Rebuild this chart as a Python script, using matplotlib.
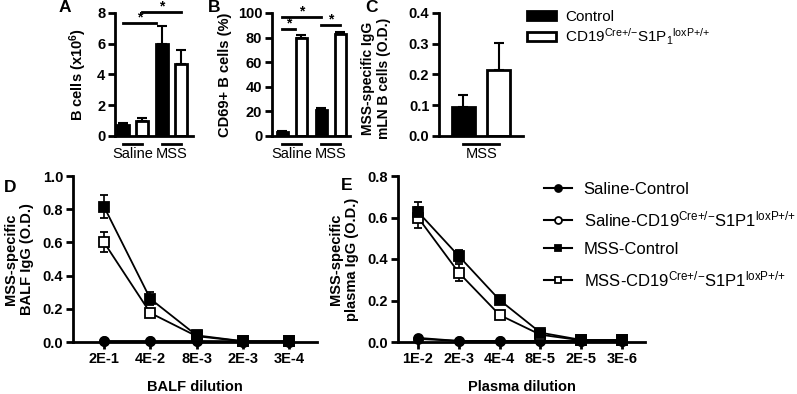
import matplotlib
matplotlib.use("Agg")
import matplotlib.pyplot as plt
import numpy as np
from matplotlib.patches import Patch
from matplotlib.lines import Line2D

plt.rcParams['font.family'] = ['Liberation Sans', 'DejaVu Sans']
plt.rcParams['mathtext.fontset'] = 'custom'
plt.rcParams['mathtext.rm'] = 'Liberation Sans'
plt.rcParams['mathtext.bf'] = 'Liberation Sans:bold'
plt.rcParams['mathtext.it'] = 'Liberation Sans:italic'

# ---------------- data ----------------
groups = ["Saline", "MSS"]
bar_labels = ["Control",
              r"CD19$^{\mathregular{Cre{+}/{-}}}$S1P$_{\mathregular{1}}$$^{\mathregular{loxP{+}/{+}}}$"]

a_ctrl = [0.7, 6.0]
a_ctrl_err = [0.15, 1.15]
a_ko = [1.0, 4.7]
a_ko_err = [0.15, 0.9]

b_ctrl = [3.5, 21.5]
b_ctrl_err = [0.6, 1.2]
b_ko = [80.0, 83.0]
b_ko_err = [2.0, 1.5]

c_groups = ["MSS"]
c_ctrl = [0.093]
c_ctrl_err = [0.04]
c_ko = [0.215]
c_ko_err = [0.087]

d_dil = ["2E-1", "4E-2", "8E-3", "2E-3", "3E-4"]
d_sal_ctrl = [0.005, 0.005, 0.005, 0.003, 0.003]
d_sal_ko = [0.005, 0.005, 0.005, 0.003, 0.003]
d_mss_ctrl = [0.815, 0.26, 0.04, 0.005, 0.005]
d_mss_ctrl_err = [0.07, 0.04, 0.008, 0.003, 0.003]
d_mss_ko = [0.60, 0.175, 0.035, 0.004, 0.004]
d_mss_ko_err = [0.06, 0.02, 0.006, 0.003, 0.003]

e_dil = ["1E-2", "2E-3", "4E-4", "8E-5", "2E-5", "3E-6"]
e_sal_ctrl = [0.02, 0.005, 0.005, 0.005, 0.005, 0.005]
e_sal_ko = [0.015, 0.005, 0.005, 0.005, 0.005, 0.005]
e_mss_ctrl = [0.627, 0.414, 0.202, 0.045, 0.01, 0.01]
e_mss_ctrl_err = [0.048, 0.03, 0.01, 0.01, 0.004, 0.004]
e_mss_ko = [0.60, 0.334, 0.13, 0.035, 0.008, 0.008]
e_mss_ko_err = [0.05, 0.04, 0.01, 0.01, 0.004, 0.004]

line_labels = ["Saline-Control",
               r"Saline-CD19$^{\mathregular{Cre{+}/{-}}}$S1P1$^{\mathregular{loxP{+}/{+}}}$",
               "MSS-Control",
               r"MSS-CD19$^{\mathregular{Cre{+}/{-}}}$S1P1$^{\mathregular{loxP{+}/{+}}}$"]

# ---------------- figure ----------------
W, H = 797, 394
fig = plt.figure(figsize=(W / 100, H / 100), dpi=100)


def axes_px(l, t, r, b):
    return fig.add_axes([l / W, 1 - b / H, (r - l) / W, (b - t) / H])


LW = 2.0


def style(ax):
    for s in ["top", "right"]:
        ax.spines[s].set_visible(False)
    for s in ["left", "bottom"]:
        ax.spines[s].set_linewidth(LW)
    ax.tick_params(width=LW, length=5, labelsize=10.5, pad=2)
    for lbl in ax.get_yticklabels() + ax.get_xticklabels():
        lbl.set_fontweight('bold')


def bar_panel(ax, ctrl, ctrl_err, ko, ko_err, names, width):
    n = len(ctrl)
    pos_c = []
    pos_k = []
    for i in range(n):
        base = i * 2.05
        pos_c.append(base)
        pos_k.append(base + 1)
    ax.bar(pos_c, ctrl, width=width, color='black', edgecolor='black', linewidth=LW, zorder=2)
    ax.bar(pos_k, ko, width=width, color='white', edgecolor='black', linewidth=LW, zorder=2)
    ax.errorbar(pos_c, ctrl, yerr=[np.zeros(n), ctrl_err], fmt='none', ecolor='black',
                elinewidth=1.5, capsize=3.5, capthick=1.5, zorder=1)
    ax.errorbar(pos_k, ko, yerr=[np.zeros(n), ko_err], fmt='none', ecolor='black',
                elinewidth=1.5, capsize=3.5, capthick=1.5, zorder=1)
    ax.set_xticks([])
    for i in range(n):
        ax.plot([pos_c[i], pos_k[i]], [-0.065, -0.065], color='black', lw=LW,
                transform=ax.get_xaxis_transform(), clip_on=False)
        ax.text((pos_c[i] + pos_k[i]) / 2, -0.15, names[i], ha='center', va='center',
                fontsize=10.5, transform=ax.get_xaxis_transform())
    return pos_c, pos_k


def sig(ax, x0, x1, y, star_x=None):
    ax.plot([x0, x1], [y, y], color='black', lw=LW, clip_on=False)
    if star_x is None:
        star_x = (x0 + x1) / 2
    ax.annotate("*", (star_x, y), xytext=(0, -1), textcoords='offset points',
                ha='center', va='bottom', fontsize=10, fontweight='bold',
                annotation_clip=False)


# Panel A
axA = axes_px(115, 13, 193, 136)
pc, pk = bar_panel(axA, a_ctrl, a_ctrl_err, a_ko, a_ko_err, groups, 0.62)
axA.set_xlim(-0.42, 3.7)
axA.set_ylim(0, 8)
axA.set_yticks([0, 2, 4, 6, 8])
axA.set_ylabel(r"B cells (x10$^{\mathbf{6}}$)", fontsize=10.5, fontweight='bold', labelpad=6)
style(axA)
sig(axA, pc[0], pc[1] - 0.3, 7.35)
sig(axA, pk[0], pk[1], 8.05)

# Panel B
axB = axes_px(272, 13, 350, 136)
pc, pk = bar_panel(axB, b_ctrl, b_ctrl_err, b_ko, b_ko_err, groups, 0.62)
axB.set_xlim(-0.55, 3.55)
axB.set_ylim(0, 100)
axB.set_yticks([0, 20, 40, 60, 80, 100])
axB.set_ylabel("CD69+ B cells (%)", fontsize=10.5, fontweight='bold', labelpad=4)
style(axB)
sig(axB, pc[0], pc[1], 96.5)
sig(axB, pc[0], pk[0] - 0.35, 87)
sig(axB, pc[1], pk[1], 90)

# Panel C
axC = axes_px(439, 13, 523, 136)
pc, pk = bar_panel(axC, c_ctrl, c_ctrl_err, c_ko, c_ko_err, c_groups, 0.65)
axC.set_xlim(-0.69, 1.68)
axC.set_ylim(0, 0.4)
axC.set_yticks([0, 0.1, 0.2, 0.3, 0.4])
axC.set_yticklabels(["0.0", "0.1", "0.2", "0.3", "0.4"])
axC.set_ylabel("MSS-specific IgG\nmLN B cells (O.D.)", fontsize=10, fontweight='bold')
axC.yaxis.set_label_coords(-0.57, 0.47)
style(axC)

# legend for bars
handles = [Patch(facecolor='black', edgecolor='black', linewidth=LW),
           Patch(facecolor='white', edgecolor='black', linewidth=LW)]
fig.legend(handles, bar_labels, loc='upper left', bbox_to_anchor=(521 / W, 1 - 4 / H),
           frameon=False, fontsize=11, handlelength=1.9, handleheight=0.55,
           labelspacing=0.15, handletextpad=0.6, borderaxespad=0)


def line_panel(ax, labels, sc, sk, mc, mc_err, mk, mk_err):
    x = np.arange(len(labels))
    kw = dict(color='black', lw=1.3, markersize=6.5, capsize=3, elinewidth=1.2,
              capthick=1.2, clip_on=False, markeredgewidth=1.3)
    ax.errorbar(x, sk, fmt='-o', markerfacecolor='white', markeredgecolor='black', zorder=3, **kw)
    ax.errorbar(x, sc, fmt='-o', markerfacecolor='black', markeredgecolor='black', zorder=3, **kw)
    ax.errorbar(x, mk, yerr=mk_err, fmt='-s', markerfacecolor='white', markeredgecolor='black', zorder=4, **kw)
    ax.errorbar(x, mc, yerr=mc_err, fmt='-s', markerfacecolor='black', markeredgecolor='black', zorder=4, **kw)
    ax.set_xticks(x)
    ax.set_xticklabels(labels)


# Panel D
axD = axes_px(73, 176, 317, 342)
line_panel(axD, d_dil, d_sal_ctrl, d_sal_ko, d_mss_ctrl, d_mss_ctrl_err, d_mss_ko, d_mss_ko_err)
axD.set_xlim(-0.67, 4.6)
axD.set_ylim(0, 1.0)
axD.set_yticks([0, 0.2, 0.4, 0.6, 0.8, 1.0])
axD.set_yticklabels(["0.0", "0.2", "0.4", "0.6", "0.8", "1.0"])
axD.set_ylabel("MSS-specific\nBALF IgG (O.D.)", fontsize=10.5, fontweight='bold', labelpad=6)
axD.set_xlabel("BALF dilution", fontsize=10.5, fontweight='bold', labelpad=10)
style(axD)

# Panel E
axE = axes_px(398, 176, 645, 342)
line_panel(axE, e_dil, e_sal_ctrl, e_sal_ko, e_mss_ctrl, e_mss_ctrl_err, e_mss_ko, e_mss_ko_err)
axE.set_xlim(-0.49, 5.56)
axE.set_ylim(0, 0.8)
axE.set_yticks([0, 0.2, 0.4, 0.6, 0.8])
axE.set_yticklabels(["0.0", "0.2", "0.4", "0.6", "0.8"])
axE.set_ylabel("MSS-specific\nplasma IgG (O.D.)", fontsize=10.5, fontweight='bold', labelpad=6)
axE.set_xlabel("Plasma dilution", fontsize=10.5, fontweight='bold', labelpad=10)
style(axE)

# legend for lines
lkw = dict(color='black', lw=1.5, markersize=5, markeredgewidth=1.3)
lh = [Line2D([], [], marker='o', markerfacecolor='black', **lkw),
      Line2D([], [], marker='o', markerfacecolor='white', **lkw),
      Line2D([], [], marker='s', markerfacecolor='black', **lkw),
      Line2D([], [], marker='s', markerfacecolor='white', **lkw)]
fig.legend(lh, line_labels, loc='upper left', bbox_to_anchor=(537 / W, 1 - 175 / H),
           frameon=False, fontsize=12, handlelength=1.7, labelspacing=0.75,
           handletextpad=0.7, borderaxespad=0)

# panel letters
for letter, (px, py) in {"A": (65, 8), "B": (214, 8), "C": (371, 8), "D": (10, 187), "E": (347, 186)}.items():
    fig.text(px / W, 1 - py / H, letter, fontsize=12.5, fontweight='bold', ha='center', va='center')

fig.savefig("out.png", dpi=100)
